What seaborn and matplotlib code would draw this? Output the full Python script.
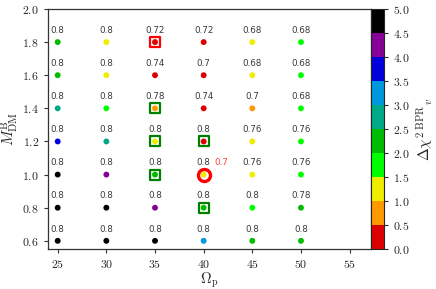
import numpy as np
import pandas as pd
import matplotlib
matplotlib.use('Agg')
import matplotlib.pyplot as plt
import seaborn as sns
from matplotlib.colors import ListedColormap, Normalize
from matplotlib.cm import ScalarMappable
from matplotlib.ticker import FuncFormatter, MultipleLocator

# grid of models
omega_p = [25, 30, 35, 40, 45, 50]
m_dm = [1.8, 1.6, 1.4, 1.2, 1.0, 0.8, 0.6]

# delta chi^2 (colour) per row, top to bottom
chi2_rows = [
    [2.2, 1.2, 0.3, 0.3, 1.2, 1.7],
    [2.2, 1.2, 0.3, 0.3, 1.2, 1.7],
    [2.7, 1.7, 0.8, 0.3, 0.8, 1.7],
    [3.7, 2.7, 1.2, 0.3, 1.2, 1.7],
    [4.8, 4.2, 2.2, 1.2, 1.2, 1.7],
    [4.8, 4.8, 4.2, 2.2, 1.7, 2.2],
    [4.8, 4.8, 4.8, 3.2, 2.2, 2.2],
]

# numbers written above each point
label_rows = [
    ['0.8', '0.8', '0.72', '0.72', '0.68', '0.68'],
    ['0.8', '0.8', '0.74', '0.7', '0.68', '0.68'],
    ['0.8', '0.8', '0.78', '0.74', '0.7', '0.68'],
    ['0.8', '0.8', '0.8', '0.8', '0.76', '0.76'],
    ['0.8', '0.8', '0.8', '0.8', '0.76', '0.76'],
    ['0.8', '0.8', '0.8', '0.8', '0.8', '0.78'],
    ['0.8', '0.8', '0.8', '0.8', '0.8', '0.8'],
]

green_boxes = [(35, 1.4), (35, 1.2), (40, 1.2), (35, 1.0), (40, 0.8)]
red_boxes = [(35, 1.8)]
best_fit = (40, 1.0)
best_fit_label = '0.7'

rows = []
for y, chis, labs in zip(m_dm, chi2_rows, label_rows):
    for x, c, l in zip(omega_p, chis, labs):
        rows.append({'omega': x, 'mdm': y, 'chi2': c, 'label': l})
df = pd.DataFrame(rows)
gb = pd.DataFrame(green_boxes, columns=['omega', 'mdm'])
rb = pd.DataFrame(red_boxes, columns=['omega', 'mdm'])
bf = pd.DataFrame([best_fit], columns=['omega', 'mdm'])

sns.set_style('ticks')
plt.rcParams['mathtext.fontset'] = 'cm'
plt.rcParams['font.family'] = ['DejaVu Sans']

# discrete nipy_spectral, red at low values, black at high
spec = plt.get_cmap('nipy_spectral')
cmap = ListedColormap([spec(0.9 - 0.1 * i) for i in range(10)])
norm = Normalize(0, 5)

fig = plt.figure(figsize=(4.36, 2.89), dpi=100)
ax = fig.add_axes([0.110, 0.138, 0.741, 0.831])
cax = fig.add_axes([0.851, 0.138, 0.029, 0.831])

sns.scatterplot(data=gb, x='omega', y='mdm', marker='s', s=52, color='white',
                edgecolor='green', linewidth=1.6, ax=ax, zorder=2)
sns.scatterplot(data=rb, x='omega', y='mdm', marker='s', s=52, color='white',
                edgecolor='red', linewidth=1.6, ax=ax, zorder=2)
sns.scatterplot(data=bf, x='omega', y='mdm', marker='o', s=75, color='white',
                edgecolor='red', linewidth=2.4, ax=ax, zorder=2)
sns.scatterplot(data=df, x='omega', y='mdm', hue='chi2', palette=cmap, hue_norm=norm,
                s=18, linewidth=0, legend=False, ax=ax, zorder=3)

for _, r in df.iterrows():
    ax.annotate(r['label'], (r['omega'], r['mdm']), xytext=(0, 8.5),
                textcoords='offset points', ha='center', va='center',
                fontsize=6.3, color='#3a3a3a')
ax.annotate(best_fit_label, best_fit, xytext=(13, 8.5), textcoords='offset points',
            ha='center', va='center', fontsize=6.3, color='#ff4444')

ax.set_xlim(24, 57.2)
ax.set_ylim(0.55, 2.0)
ax.xaxis.set_major_locator(MultipleLocator(5))
ax.yaxis.set_major_locator(MultipleLocator(0.2))
ax.xaxis.set_major_formatter(FuncFormatter(lambda v, p: f'${v:.0f}$'))
ax.yaxis.set_major_formatter(FuncFormatter(lambda v, p: f'${v:.1f}$'))
ax.tick_params(direction='out', length=3, width=0.8, labelsize=8.5, color='#333333')
ax.set_xlabel(r'$\Omega_{\rm p}$', fontsize=10.5, va='center')
ax.set_ylabel(r'$M_{\rm DM}^{\rm B}$', fontsize=11, va='center')
ax.xaxis.set_label_coords(0.5, -0.13)
ax.yaxis.set_label_coords(-0.118, 0.5)
for s in ax.spines.values():
    s.set_linewidth(0.9)
    s.set_color('#333333')

cb = fig.colorbar(ScalarMappable(norm=norm, cmap=cmap), cax=cax)
cb.set_ticks(np.arange(0, 5.01, 0.5))
cb.ax.yaxis.set_major_formatter(FuncFormatter(lambda v, p: f'${v:.1f}$'))
cb.ax.tick_params(labelsize=8.5, length=3, width=0.8)
cb.outline.set_linewidth(0.8)
cb.set_label(r'$\Delta\chi^{2\ {\rm BPR}}{}_{v}$', fontsize=11)

fig.savefig('out.png', dpi=100)
